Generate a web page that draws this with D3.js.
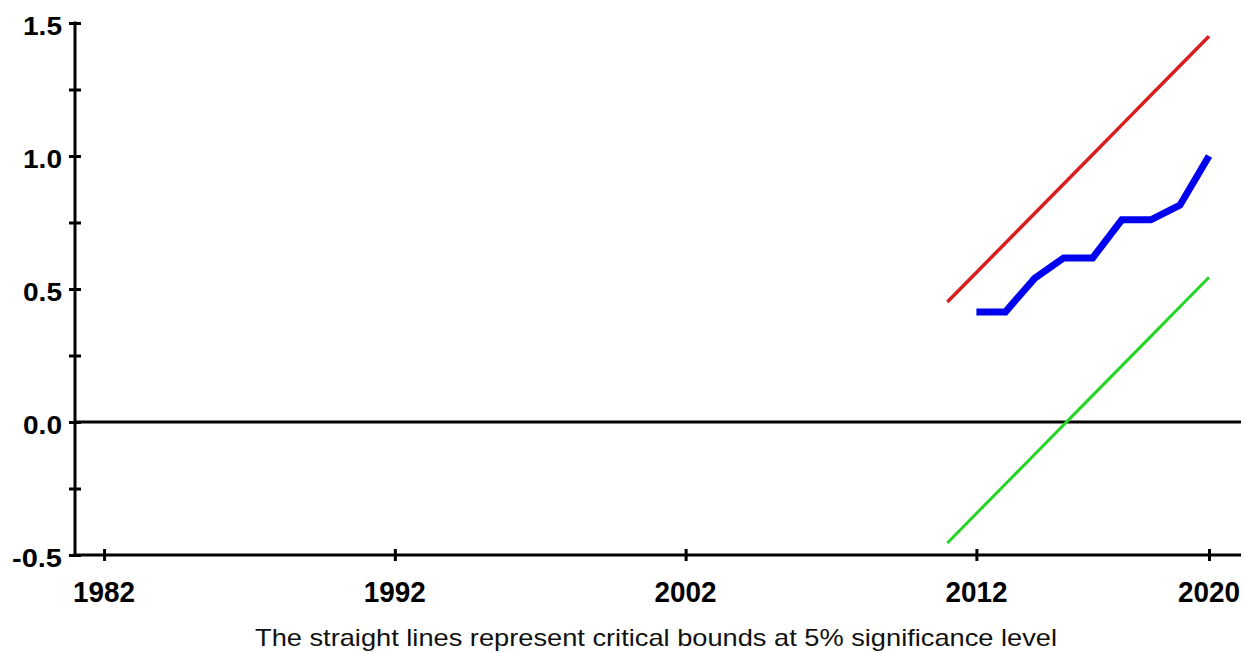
<!DOCTYPE html>
<html>
<head>
<meta charset="utf-8">
<script src="https://cdn.jsdelivr.net/npm/d3@7"></script>
<style>
  html, body { margin: 0; padding: 0; background: #ffffff; }
  svg { display: block; }
</style>
</head>
<body>
<svg id="chart" width="1245" height="653"></svg>
<script>
// CUSUM of squares with 5% critical bounds
const boundYears = [2011, 2012, 2013, 2014, 2015, 2016, 2017, 2018, 2019, 2020];
const upperBound = [0.451, 0.562, 0.673, 0.784, 0.895, 1.006, 1.117, 1.228, 1.339, 1.450];
const lowerBound = [-0.455, -0.344, -0.233, -0.122, -0.011, 0.100, 0.211, 0.322, 0.433, 0.544];

const cusumYears = [2012, 2013, 2014, 2015, 2016, 2017, 2018, 2019, 2020];
const cusumSq = [0.414, 0.414, 0.540, 0.617, 0.617, 0.760, 0.760, 0.815, 1.000];

const xTickYears = [1982, 1992, 2002, 2012, 2020];
const yTickValues = [-0.5, -0.25, 0, 0.25, 0.5, 0.75, 1.0, 1.25, 1.5];
const yLabelValues = [-0.5, 0, 0.5, 1.0, 1.5];
const caption = "The straight lines represent critical bounds at 5% significance level";

const svg = d3.select("#chart");

const x = d3.scaleLinear().domain([1981, 2021.1]).range([75, 1241]);
const y = d3.scaleLinear().domain([-0.5, 1.5]).range([555, 23]);

const axisColor = "#000";

// y axis: ticks cross the axis line
const yAxis = svg.append("g")
  .attr("transform", `translate(${x(1981)},0)`)
  .call(d3.axisLeft(y).tickValues(yTickValues).tickSize(6).tickFormat(""));
yAxis.select(".domain").remove();
yAxis.selectAll(".tick line")
  .attr("x1", -6).attr("x2", 6)
  .attr("stroke", axisColor).attr("stroke-width", 3);
yAxis.append("line")
  .attr("x1", 0).attr("x2", 0)
  .attr("y1", y(1.5) - 1.5).attr("y2", y(-0.5) + 1.5)
  .attr("stroke", axisColor).attr("stroke-width", 3);

// y labels
svg.append("g").selectAll("text")
  .data(yLabelValues)
  .join("text")
  .attr("x", 62)
  .attr("y", d => y(d) + 12)
  .attr("text-anchor", "end")
  .attr("font-family", "'Liberation Sans', Arial, sans-serif")
  .attr("font-weight", "bold")
  .attr("font-size", 25)
  .attr("textLength", d => d < 0 ? 50 : 39)
  .attr("lengthAdjust", "spacingAndGlyphs")
  .attr("fill", "#000")
  .text(d => d3.format(".1f")(d).replace("−", "-"));

// x axis
const xAxis = svg.append("g")
  .attr("transform", `translate(0,${y(-0.5)})`)
  .call(d3.axisBottom(x).tickValues(xTickYears).tickSize(6).tickFormat(""));
xAxis.select(".domain").remove();
xAxis.selectAll(".tick line")
  .attr("y1", -6).attr("y2", 6)
  .attr("stroke", axisColor).attr("stroke-width", 3);
xAxis.append("line")
  .attr("x1", x(1981) - 1.5).attr("x2", x(2021.1))
  .attr("y1", 0).attr("y2", 0)
  .attr("stroke", axisColor).attr("stroke-width", 3);

// x labels
svg.append("g").selectAll("text")
  .data(xTickYears)
  .join("text")
  .attr("x", d => x(d))
  .attr("y", 602)
  .attr("text-anchor", "middle")
  .attr("font-family", "'Liberation Sans', Arial, sans-serif")
  .attr("font-weight", "bold")
  .attr("font-size", 30)
  .attr("textLength", 62)
  .attr("lengthAdjust", "spacingAndGlyphs")
  .attr("fill", "#000")
  .text(d => d);

// zero reference line
svg.append("line")
  .attr("x1", x(1981)).attr("x2", x(2021.1))
  .attr("y1", y(0)).attr("y2", y(0))
  .attr("stroke", axisColor).attr("stroke-width", 3);

const line = (ys, vals) => d3.line()
  .x((d, i) => x(ys[i]))
  .y(d => y(d))(vals);

// critical bounds
svg.append("path")
  .attr("d", line(boundYears, upperBound))
  .attr("fill", "none")
  .attr("stroke", "#d81e1e")
  .attr("stroke-width", 3.5);

svg.append("path")
  .attr("d", line(boundYears, lowerBound))
  .attr("fill", "none")
  .attr("stroke", "#22d622")
  .attr("stroke-width", 3);

// cusum of squares
svg.append("path")
  .attr("d", line(cusumYears, cusumSq))
  .attr("fill", "none")
  .attr("stroke", "#0000f0")
  .attr("stroke-width", 7)
  .attr("stroke-linejoin", "miter");

// caption
svg.append("text")
  .attr("x", 656)
  .attr("y", 646)
  .attr("text-anchor", "middle")
  .attr("font-family", "'Liberation Sans', Arial, sans-serif")
  .attr("font-size", 24)
  .attr("textLength", 802)
  .attr("lengthAdjust", "spacingAndGlyphs")
  .attr("fill", "#111")
  .text(caption);
</script>
</body>
</html>
